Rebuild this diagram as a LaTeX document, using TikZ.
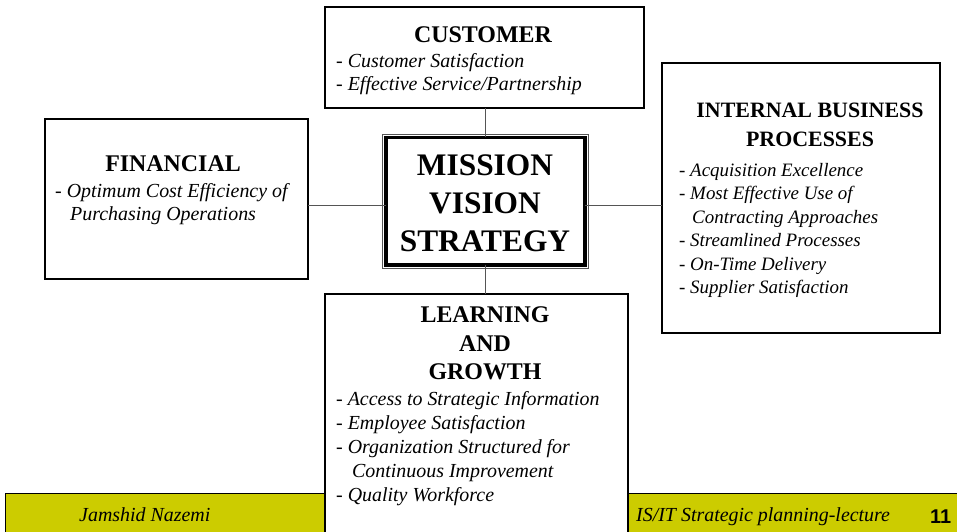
\documentclass[tikz,border=0pt]{standalone}
\usepackage{fontspec}
\setmainfont{Liberation Serif}
\newfontfamily\pagenumfont{Liberation Sans}
\usepackage{tikz}
\definecolor{footerolive}{RGB}{204,204,0}
\definecolor{linkgray}{RGB}{85,85,85}

\begin{document}
\begin{tikzpicture}[
    x=1bp, y=-1bp,
    box/.style={draw=black, line width=1.2bp, fill=white, outer sep=0pt, inner sep=0pt},
    link/.style={draw=linkgray, line width=1.5bp},
    head/.style={inner sep=0pt, anchor=base, align=center,
      font=\fontsize{24}{29}\selectfont\bfseries},
    items/.style={inner sep=0pt, anchor=base west, align=left,
      font=\fontsize{20}{24}\selectfont\itshape},
    foot/.style={inner sep=0pt, anchor=base west,
      font=\fontsize{20}{24}\selectfont\itshape},
  ]
  \def\gap{3.5bp}
  \useasboundingbox (0,0) rectangle (957,532);

  \fill[footerolive] (5,493) rectangle (957,545);
  \draw[line width=1bp] (5,545) -- (5,493) -- (957,493);

  \node[box, minimum width=319bp, minimum height=101bp] (cus) at (484.5,57.5) {};
  \node[box, minimum width=263bp, minimum height=160bp] (fin) at (176.5,199) {};
  \node[box, minimum width=278bp, minimum height=270bp] (ibp) at (801,198) {};
  \node[box, minimum width=303bp, minimum height=306bp] (lrn) at (476.5,447) {};
  \node[box, line width=3.5bp, minimum width=199bp, minimum height=127.5bp]
    (mvs) at (485.5,201.25) {};
  \draw[linkgray, line width=0.9bp]
    ([shift={(-\gap,\gap)}]mvs.north west) rectangle ([shift={(\gap,-\gap)}]mvs.south east);

  \node[head, font=\fontsize{31.5}{38.5}\selectfont\bfseries] (mvs-text) at (485,252)
    {MISSION\\VISION\\STRATEGY};

  \node[head] (cus-head) at (483,43) {CUSTOMER};
  \node[items] (cus-items) at (336,91)
    {- Customer Satisfaction\\- Effective Service/Partnership};

  \node[head] (fin-head) at (173,172) {FINANCIAL};
  \node[items] (fin-items) at (55,221)
    {- Optimum Cost Efficiency of\\\hspace*{15bp}Purchasing Operations};

  \node[head, font=\fontsize{22}{30}\selectfont\bfseries] (ibp-head) at (810,147)
    {INTERNAL BUSINESS\\PROCESSES};
  \node[items, font=\fontsize{19}{23.6}\selectfont\itshape] (ibp-items) at (679,294)
    {- Acquisition Excellence\\- Most Effective Use of\\\hspace*{13bp}Contracting Approaches\\
     - Streamlined Processes\\- On-Time Delivery\\- Supplier Satisfaction};

  \node[head] (lrn-head) at (485,380) {LEARNING\\AND\\GROWTH};
  \node[items] (lrn-items) at (336,501)
    {- Access to Strategic Information\\- Employee Satisfaction\\
     - Organization Structured for\\\hspace*{16bp}Continuous Improvement\\- Quality Workforce};

  \draw[link] (mvs.north) -- (mvs.north |- cus.south);
  \draw[link] (mvs.south) -- (mvs.south |- lrn.north);
  \draw[link] ([yshift=-4.5bp]mvs.west) -- ([yshift=-4.5bp]mvs.west -| fin.east);
  \draw[link] ([yshift=-4.5bp]mvs.east) -- ([yshift=-4.5bp]mvs.east -| ibp.west);

  \node[foot] (author) at (79,521) {Jamshid Nazemi};
  \node[foot] (course) at (636,521) {IS/IT Strategic planning-lecture};
  \node[foot, font=\pagenumfont\bfseries\fontsize{20}{24}\selectfont] (pagenum) at (930,523) {11};
\end{tikzpicture}
\end{document}
